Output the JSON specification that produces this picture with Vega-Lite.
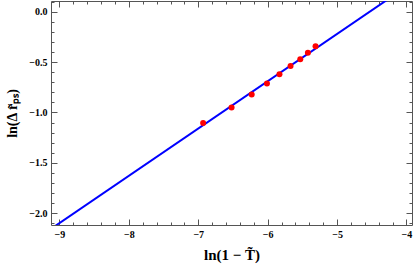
{
  "$schema": "https://vega.github.io/schema/vega-lite/v6.json",
  "width": 361,
  "height": 224,
  "autosize": "none",
  "padding": {"left": 51, "top": 1, "right": 3, "bottom": 42},
  "config": {
    "view": {"stroke": "#555555", "strokeWidth": 1},
    "axis": {
      "domain": false, "grid": false, "tickColor": "#555555", "tickWidth": 1,
      "labelFont": "Liberation Serif", "labelFontWeight": "bold", "labelFontSize": 10, "labelColor": "#000000",
      "titleFont": "Liberation Serif", "titleFontWeight": "bold", "titleColor": "#000000", "titleFontSize": 15
    }
  },
  "datasets": {
    "fit": [{"x": -9.2, "y": -2.191}, {"x": -3.8, "y": 0.342}],
    "pts": [
      {"x": -6.93, "y": -1.104},
      {"x": -6.52, "y": -0.951},
      {"x": -6.23, "y": -0.822},
      {"x": -6.01, "y": -0.712},
      {"x": -5.83, "y": -0.620},
      {"x": -5.67, "y": -0.540},
      {"x": -5.53, "y": -0.471},
      {"x": -5.42, "y": -0.408},
      {"x": -5.31, "y": -0.344}
    ]
  },
  "resolve": {"axis": {"x": "independent", "y": "independent"}},
  "layer": [
    {
      "data": {"name": "fit"},
      "mark": {"type": "line", "color": "#0000ff", "strokeWidth": 2, "clip": true},
      "encoding": {
        "x": {"field": "x", "type": "quantitative",
          "scale": {"domain": [-9.122, -3.92], "nice": false, "zero": false},
          "axis": {"orient": "bottom", "values": [-9, -8, -7, -6, -5, -4], "format": "d", "tickSize": -6, "labelPadding": 10, "title": "ln(1 − T̃)", "titlePadding": 8}},
        "y": {"field": "y", "type": "quantitative",
          "scale": {"domain": [-2.116, 0.106], "nice": false, "zero": false},
          "axis": {"orient": "left", "values": [-2, -1.5, -1, -0.5, 0], "format": ".1f", "tickSize": -6, "labelPadding": 10, "title": "ln(Δ r̃ₚₛ)", "titlePadding": 9, "titleFontSize": 14}}
      }
    },
    {
      "data": {"name": "pts"},
      "mark": {"type": "point", "filled": true, "color": "#ff0000", "opacity": 1, "size": 36},
      "encoding": {
        "x": {"field": "x", "type": "quantitative",
          "scale": {"domain": [-9.122, -3.92], "nice": false, "zero": false},
          "axis": {"orient": "top", "values": [-9, -8, -7, -6, -5, -4], "labels": false, "tickSize": -6, "title": null}},
        "y": {"field": "y", "type": "quantitative",
          "scale": {"domain": [-2.116, 0.106], "nice": false, "zero": false},
          "axis": {"orient": "right", "values": [-2, -1.5, -1, -0.5, 0], "labels": false, "tickSize": -6, "title": null}}
      }
    },
    {
      "data": {"name": "pts"},
      "mark": {"type": "point", "opacity": 0},
      "encoding": {
        "x": {"field": "x", "type": "quantitative",
          "scale": {"domain": [-9.122, -3.92], "nice": false, "zero": false},
          "axis": {"orient": "bottom", "values": [-9, -8.8, -8.6, -8.4, -8.2, -8, -7.8, -7.6, -7.4, -7.2, -7, -6.8, -6.6, -6.4, -6.2, -6, -5.8, -5.6, -5.4, -5.2, -5, -4.8, -4.6, -4.4, -4.2, -4], "labels": false, "tickSize": -3, "title": null}},
        "y": {"field": "y", "type": "quantitative",
          "scale": {"domain": [-2.116, 0.106], "nice": false, "zero": false},
          "axis": {"orient": "left", "values": [-2.1, -2, -1.9, -1.8, -1.7, -1.6, -1.5, -1.4, -1.3, -1.2, -1.1, -1, -0.9, -0.8, -0.7, -0.6, -0.5, -0.4, -0.3, -0.2, -0.1, 0, 0.1], "labels": false, "tickSize": -3, "title": null}}
      }
    },
    {
      "data": {"name": "pts"},
      "mark": {"type": "point", "opacity": 0},
      "encoding": {
        "x": {"field": "x", "type": "quantitative",
          "scale": {"domain": [-9.122, -3.92], "nice": false, "zero": false},
          "axis": {"orient": "top", "values": [-9, -8.8, -8.6, -8.4, -8.2, -8, -7.8, -7.6, -7.4, -7.2, -7, -6.8, -6.6, -6.4, -6.2, -6, -5.8, -5.6, -5.4, -5.2, -5, -4.8, -4.6, -4.4, -4.2, -4], "labels": false, "tickSize": -3, "title": null}},
        "y": {"field": "y", "type": "quantitative",
          "scale": {"domain": [-2.116, 0.106], "nice": false, "zero": false},
          "axis": {"orient": "right", "values": [-2.1, -2, -1.9, -1.8, -1.7, -1.6, -1.5, -1.4, -1.3, -1.2, -1.1, -1, -0.9, -0.8, -0.7, -0.6, -0.5, -0.4, -0.3, -0.2, -0.1, 0, 0.1], "labels": false, "tickSize": -3, "title": null}}
      }
    }
  ]
}
